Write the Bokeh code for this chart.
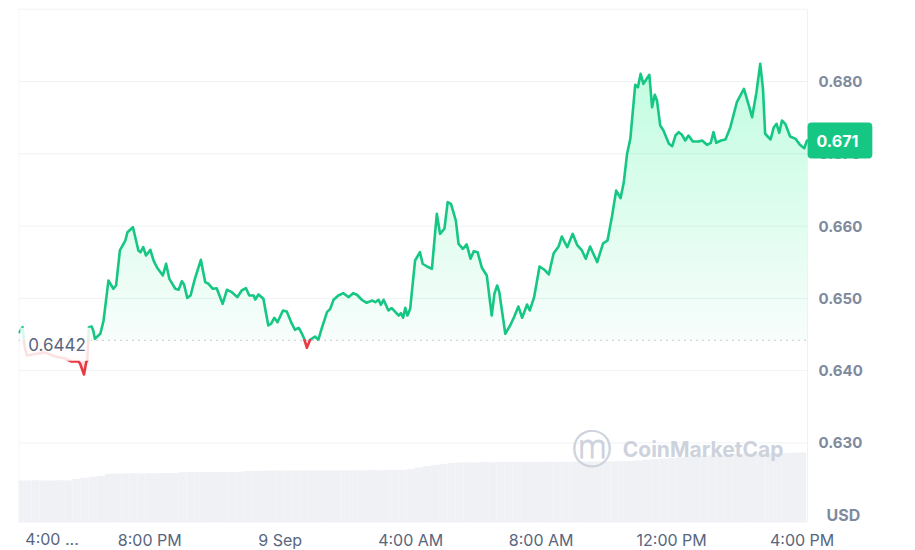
import numpy as np
from bokeh.plotting import figure
from bokeh.models import Range1d, FixedTicker, Label, PrintfTickFormatter
from bokeh.embed import file_html
from bokeh.resources import INLINE

# ---------------- data ----------------
# minutes after 4:00 PM (8 Sep)
minutes = [0, 6, 10, 14, 32, 47, 66, 84, 96, 109, 112, 119, 123, 125, 128, 133, 136, 139, 149, 155,
           164, 173, 178, 185, 195, 199, 209, 219, 223, 228, 233, 241, 247, 253, 264, 270, 276, 287, 293, 299,
           303, 309, 315, 323, 334, 342, 348, 356, 363, 374, 382, 391, 401, 409, 417, 423, 431, 434, 440, 449,
           458, 463, 469, 475, 485, 492, 500, 507, 514, 520, 524, 529, 535, 544, 550, 557, 566, 572, 578, 587,
           596, 606, 614, 621, 630, 639, 649, 655, 661, 665, 670, 679, 685, 692, 698, 702, 706, 710, 714, 719,
           728, 737, 742, 750, 759, 768, 774, 782, 788, 794, 803, 808, 816, 823, 830, 836, 843, 851, 860, 869,
           874, 879, 883, 894, 903, 910, 918, 925, 934, 939, 947, 957, 966, 974, 983, 992, 998, 1008, 1018, 1026,
           1035, 1042, 1050, 1063, 1074, 1082, 1090, 1098, 1106, 1112, 1118, 1124, 1133, 1138, 1143, 1148, 1159, 1164, 1169, 1173,
           1179, 1185, 1195, 1201, 1207, 1213, 1219, 1225, 1231, 1239, 1250, 1256, 1265, 1272, 1277, 1282, 1291, 1299, 1308, 1320,
           1333, 1342, 1348, 1356, 1363, 1368, 1372, 1382, 1388, 1393, 1398, 1403, 1409, 1418, 1428, 1436, 1444, 1449]
prices = [0.64532, 0.64602, 0.64325, 0.64210, 0.64234, 0.64252, 0.64197, 0.64169, 0.64127, 0.64127,
          0.64095, 0.63947, 0.64118, 0.64141, 0.64602, 0.64611, 0.64556, 0.64441, 0.64510, 0.64694,
          0.65248, 0.65133, 0.65178, 0.65663, 0.65801, 0.65916, 0.65985, 0.65663, 0.65639, 0.65708,
          0.65593, 0.65672, 0.65524, 0.65432, 0.65317, 0.65479, 0.65271, 0.65133, 0.65119, 0.65238,
          0.65192, 0.65008, 0.65040, 0.65271, 0.65534, 0.65224, 0.65202, 0.65133, 0.65141, 0.64925,
          0.65119, 0.65086, 0.65017, 0.65109, 0.65141, 0.65040, 0.65040, 0.64985, 0.65054, 0.64994,
          0.64625, 0.64649, 0.64732, 0.64671, 0.64833, 0.64819, 0.64671, 0.64566, 0.64593, 0.64510,
          0.64441, 0.64317, 0.64427, 0.64473, 0.64427, 0.64602, 0.64809, 0.64856, 0.64981, 0.65040,
          0.65072, 0.65017, 0.65072, 0.65050, 0.64981, 0.64939, 0.64971, 0.64947, 0.64981, 0.64911,
          0.64981, 0.64833, 0.64865, 0.64809, 0.64763, 0.64795, 0.64732, 0.64870, 0.64763, 0.64856,
          0.65524, 0.65639, 0.65479, 0.65441, 0.65409, 0.66170, 0.65893, 0.65963, 0.66331, 0.66308,
          0.66077, 0.65755, 0.65686, 0.65746, 0.65548, 0.65653, 0.65639, 0.65423, 0.65317, 0.64763,
          0.65064, 0.65178, 0.65086, 0.64510, 0.64625, 0.64740, 0.64888, 0.64732, 0.64916, 0.64833,
          0.65017, 0.65441, 0.65396, 0.65331, 0.65625, 0.65718, 0.65856, 0.65708, 0.65893, 0.65741,
          0.65663, 0.65548, 0.65718, 0.65501, 0.65763, 0.65801, 0.66123, 0.66492, 0.66386, 0.66607,
          0.67000, 0.67207, 0.67954, 0.67921, 0.68107, 0.67968, 0.68093, 0.67645, 0.67816, 0.67737,
          0.67391, 0.67322, 0.67138, 0.67105, 0.67253, 0.67299, 0.67263, 0.67184, 0.67253, 0.67170,
          0.67170, 0.67184, 0.67124, 0.67152, 0.67299, 0.67152, 0.67184, 0.67198, 0.67368, 0.67714,
          0.67899, 0.67668, 0.67506, 0.67852, 0.68245, 0.67899, 0.67277, 0.67198, 0.67368, 0.67415,
          0.67290, 0.67461, 0.67415, 0.67239, 0.67207, 0.67124, 0.67077, 0.67184]
baseline = 0.6442
baseline_label = "0.6442"
last_price_label = "0.671"

# volume (relative units) every 15 minutes
vol_minutes = list(range(0, 1441, 15))
volumes = [210, 210, 211, 210, 210, 211, 210,
           218, 224, 229, 233,
           244, 245, 245, 246, 245, 246, 246, 247, 247,
           251, 252, 252, 253, 252, 253, 253, 254,
           258, 259, 259, 260, 259, 260, 260, 260, 261, 260, 261, 261, 260, 261, 261, 262, 261, 262, 262, 263,
           268, 275, 282, 288, 293, 297, 300,
           301, 301, 302, 301, 302, 302, 303, 302, 303, 303, 304, 303, 304, 304, 305, 305, 305, 306, 306, 307, 308,
           311, 314, 317, 320, 323, 326, 329, 331, 334, 336, 338, 340, 342, 344, 345, 346,
           347, 348, 348, 349, 350]

x_ticks = [240, 480, 720, 960, 1200, 1440]
x_tick_labels = ["8:00 PM", "9 Sep", "4:00 AM", "8:00 AM", "12:00 PM", "4:00 PM"]
first_tick_label = "4:00 ..."
y_ticks = [0.63, 0.64, 0.65, 0.66, 0.67, 0.68]
grid_levels = [0.63, 0.64, 0.65, 0.66, 0.67, 0.68, 0.69]
currency = "USD"
watermark = "CoinMarketCap"

# ---------------- layout / style ----------------
GREEN = "#16c784"
RED = "#ea3943"
GRID = "#eff2f5"
YLAB = "#808a9d"
XLAB = "#58667e"
FONT = "Inter"

X0, X1 = -1.5, 1621.0            # visible minute range (incl. label gutter on the right)
CHART_END = 1450                 # right edge of the price panel
Y0, Y1 = 0.61513, 0.690235       # visible price range (incl. label gutter below)
CHART_BOTTOM = 0.619             # bottom edge of the price panel
CHART_TOP = 0.690

p = figure(width=900, height=550,
           x_range=Range1d(X0, X1), y_range=Range1d(Y0, Y1),
           y_axis_location="right", output_backend="svg", toolbar_location=None,
           min_border_left=18, min_border_right=0, min_border_top=7, min_border_bottom=0)
p.background_fill_color = "white"
p.border_fill_color = "white"
p.outline_line_color = None
p.xgrid.visible = False
p.ygrid.visible = False

# horizontal grid lines + panel edges
p.segment(x0=X0, x1=CHART_END, y0=grid_levels, y1=grid_levels, line_color=GRID, line_width=1)
p.segment(x0=[-0.6, CHART_END], x1=[-0.6, CHART_END], y0=CHART_BOTTOM, y1=CHART_TOP,
          line_color=GRID, line_width=1)

# volume bars on their own scale (0 at the panel bottom)
p.extra_y_ranges = {"vol": Range1d(-140, 2575)}
p.vbar(x=vol_minutes, top=volumes, bottom=0, width=15, y_range_name="vol",
       fill_color="#eff1f4", line_color=None)

# ----- gradient fills (stacked translucent layers) -----
t = np.array(minutes, float)
pr = np.array(prices, float)
top = pr.max()
bot = pr.min()
NG, NR = 28, 8
g_levels = np.linspace(baseline, top, NG + 1)[:-1]
r_levels = np.linspace(baseline, bot, NR + 1)[:-1]
levels = np.concatenate([g_levels, r_levels])
xs = list(t)
for i in range(len(t) - 1):
    a, b = pr[i], pr[i + 1]
    for L in levels:
        if (a - L) * (b - L) < 0:
            xs.append(t[i] + (L - a) / (b - a) * (t[i + 1] - t[i]))
xd = np.unique(np.array(xs))
yd = np.interp(xd, t, pr)

for k, L in enumerate(g_levels):
    a = 0.035 if k == 0 else 0.0095
    p.varea(x=xd, y1=L, y2=np.maximum(yd, L), fill_color=GREEN, fill_alpha=a)
for k, L in enumerate(r_levels):
    a = 0.03 if k == 0 else 0.02
    p.varea(x=xd, y1=np.minimum(yd, L), y2=L, fill_color=RED, fill_alpha=a)

# ----- price line, green above / red below the baseline -----
yg = np.where(yd >= baseline - 1e-12, yd, np.nan)
yr = np.where(yd <= baseline + 1e-12, yd, np.nan)
p.line(xd, yg, line_color=GREEN, line_width=2.6, line_join="round", line_cap="round")
p.line(xd, yr, line_color=RED, line_width=2.6, line_join="round", line_cap="round")

# dotted baseline (reference price)
p.segment(x0=X0, x1=CHART_END, y0=baseline, y1=baseline, line_color="#a3abbd",
          line_width=1.3, line_dash="1 5")

# ----- axes -----
xa = p.xaxis[0]
xa.fixed_location = CHART_BOTTOM
xa.ticker = FixedTicker(ticks=x_ticks)
xa.major_label_overrides = {k: v for k, v in zip(x_ticks, x_tick_labels)}
xa.axis_line_color = None
xa.major_tick_line_color = None
xa.major_tick_out = 0
xa.major_tick_in = 0
xa.minor_tick_line_color = None
xa.major_label_standoff = 7
xa.major_label_text_font = FONT
xa.major_label_text_font_size = "16px"
xa.major_label_text_color = XLAB

ya = p.yaxis[0]
ya.fixed_location = CHART_END
ya.ticker = FixedTicker(ticks=y_ticks)
ya.formatter = PrintfTickFormatter(format="%.3f")
ya.axis_line_color = None
ya.major_tick_line_color = None
ya.major_tick_out = 0
ya.major_tick_in = 0
ya.minor_tick_line_color = None
ya.major_label_standoff = 11
ya.major_label_text_font = FONT
ya.major_label_text_font_size = "15px"
ya.major_label_text_font_style = "bold"
ya.major_label_text_color = YLAB

# ----- annotations -----
p.add_layout(Label(x=0, y=0.61672, text=first_tick_label, x_offset=6,
                   text_align="left", text_baseline="middle",
                   text_font=FONT, text_font_size="16px", text_color=XLAB))

p.add_layout(Label(x=0, y=baseline, text=baseline_label, x_offset=1, y_offset=-4,
                   text_align="left", text_baseline="middle",
                   text_font=FONT, text_font_size="17px", text_color=XLAB,
                   background_fill_color="white", background_fill_alpha=0.85,
                   padding=dict(left=8, right=5, top=10, bottom=10)))

p.add_layout(Label(x=CHART_END, y=prices[-1], text=last_price_label, x_offset=0,
                   text_align="left", text_baseline="middle",
                   text_font=FONT, text_font_size="16px", text_font_style="bold",
                   text_color="white", background_fill_color=GREEN,
                   padding=dict(left=9, right=14, top=13, bottom=11), border_radius=4))

p.add_layout(Label(x=CHART_END, y=0.6201, text=currency, x_offset=19,
                   text_align="left", text_baseline="middle",
                   text_font=FONT, text_font_size="16px", text_font_style="bold",
                   text_color=YLAB))

p.add_layout(Label(x=1110, y=0.62915, text=watermark,
                   text_align="left", text_baseline="middle",
                   text_font=FONT, text_font_size="21px", text_font_style="bold",
                   text_color="#cdd2dc"))
p.add_layout(Label(x=1054, y=0.62915, text="\u24dc",
                   text_align="center", text_baseline="middle",
                   text_font="DejaVu Sans", text_font_size="40px",
                   text_color="#cdd2dc"))

open("out.html", "w").write(file_html(p, INLINE))
